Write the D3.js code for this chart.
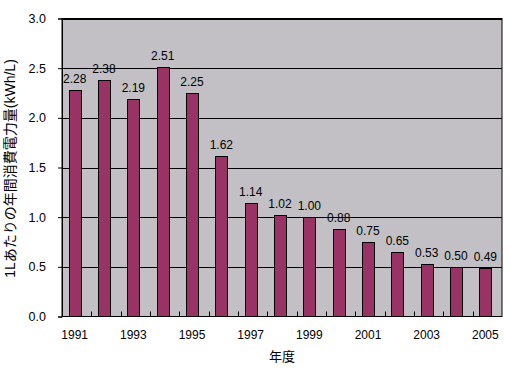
<!DOCTYPE html>
<html><head><meta charset="utf-8">
<script src="https://cdn.jsdelivr.net/npm/d3@7"></script>
<style>body{margin:0;background:#fff}svg text{font-family:"Liberation Sans","Noto Sans CJK JP",sans-serif}</style>
</head><body><svg id="c" width="510" height="372"></svg>
<script>
const years = ["1991","1992","1993","1994","1995","1996","1997","1998","1999","2000","2001","2002","2003","2004","2005"];
const values = [2.28,2.38,2.19,2.51,2.25,1.62,1.14,1.02,1.00,0.88,0.75,0.65,0.53,0.50,0.49];
const yTicks = [0,0.5,1.0,1.5,2.0,2.5,3.0];
const xTitle = "年度";
const yTitle = "1Lあたりの年間消費電力量(kWh/L)";

const svg = d3.select("#c");
const m = {l:62, r:502, t:18.5, b:316.5};
const x = d3.scaleBand().domain(years).range([m.l, m.r]).paddingInner(0.6).paddingOuter(0.3);
const xs = d3.scaleBand().domain(years).range([m.l, m.r]);
const y = d3.scaleLinear().domain([0,3]).range([m.b, m.t]);

svg.append("rect").attr("x",m.l).attr("y",m.t).attr("width",m.r-m.l).attr("height",m.b-m.t)
  .attr("fill","#c2c0c4").attr("stroke","#000");

svg.append("g").selectAll("line").data(yTicks.slice(1)).join("line")
  .attr("x1",m.l).attr("x2",m.r).attr("y1",d=>Math.round(y(d))+0.5).attr("y2",d=>Math.round(y(d))+0.5)
  .attr("stroke","#000");

// y axis
const ya = svg.append("g").attr("transform",`translate(${m.l},0)`)
  .call(d3.axisLeft(y).tickValues(yTicks).tickFormat(d3.format(".1f")).tickSize(4).tickPadding(12));
ya.select(".domain").attr("stroke","#000");
ya.selectAll("text").attr("font-size",12.5).attr("fill","#000").style("font-family",'"Liberation Sans",sans-serif');

// x axis with ticks between categories (inward)
svg.append("g").selectAll("line").data(years.slice(1)).join("line")
  .attr("x1",d=>Math.round(xs(d))+0.5).attr("x2",d=>Math.round(xs(d))+0.5)
  .attr("y1",m.b).attr("y2",m.b-5).attr("stroke","#000");
svg.append("line").attr("x1",m.l).attr("x2",m.r).attr("y1",m.b).attr("y2",m.b).attr("stroke","#000");

svg.append("g").selectAll("text").data(years.filter((d,i)=>i%2===0)).join("text")
  .attr("x",d=>xs(d)+xs.bandwidth()/2-2).attr("y",339).attr("text-anchor","middle")
  .attr("font-size",12).text(d=>d);

// bars
svg.append("g").selectAll("rect").data(values).join("rect")
  .attr("x",(d,i)=>Math.round(x(years[i])-2)+0.5).attr("width",Math.round(x.bandwidth()))
  .attr("y",d=>Math.round(y(d))+0.5).attr("height",d=>m.b-Math.round(y(d))-0.5)
  .attr("fill","#993366").attr("stroke","#000");

svg.append("g").selectAll("text").data(values).join("text")
  .attr("x",(d,i)=>x(years[i])-2+x.bandwidth()/2).attr("y",d=>y(d)-7)
  .attr("text-anchor","middle").attr("font-size",12).text(d=>d.toFixed(2));

svg.append("text").attr("x",(m.l+m.r)/2).attr("y",361).attr("text-anchor","middle")
  .attr("font-size",13).text(xTitle);
svg.append("text").attr("transform",`translate(15,${(m.t+m.b)/2+1}) rotate(-90)`)
  .attr("text-anchor","middle").attr("font-size",14).text(yTitle);
</script></body></html>
